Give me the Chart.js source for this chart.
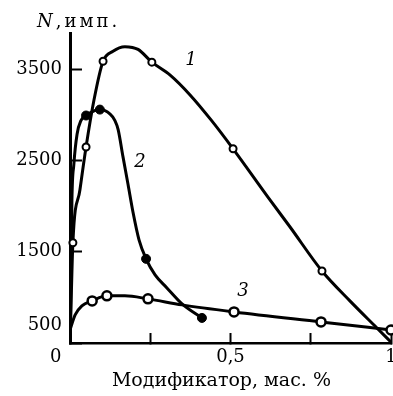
<!DOCTYPE html>
<html>
<head>
<meta charset="utf-8">
<script src="https://cdn.jsdelivr.net/npm/chart.js@4.4.1/dist/chart.umd.min.js"></script>
<style>
  html, body { margin: 0; padding: 0; background: #fff; }
  #wrap { width: 393px; height: 396px; }
</style>
</head>
<body>
<div id="wrap"><canvas id="chart" width="393" height="396"></canvas></div>
<script>
const curve1 = [
  {x: 0.001, y: 600}, {x: 0.009, y: 1600}, {x: 0.031, y: 2180}, {x: 0.05, y: 2650},
  {x: 0.075, y: 3170}, {x: 0.103, y: 3590}, {x: 0.134, y: 3700}, {x: 0.171, y: 3750},
  {x: 0.212, y: 3720}, {x: 0.255, y: 3580}, {x: 0.312, y: 3438}, {x: 0.374, y: 3221},
  {x: 0.44, y: 2944}, {x: 0.508, y: 2630}, {x: 0.623, y: 2070}, {x: 0.685, y: 1775},
  {x: 0.785, y: 1290}, {x: 0.872, y: 962}, {x: 0.956, y: 665}, {x: 1.0, y: 510}
];
const marks1 = [
  {x: 0.009, y: 1600}, {x: 0.05, y: 2650}, {x: 0.103, y: 3590},
  {x: 0.255, y: 3580}, {x: 0.508, y: 2630}, {x: 0.785, y: 1290}
];

// curve 2 (filled circles)
const curve2 = [
  {x: 0.001, y: 600}, {x: 0.006, y: 2070}, {x: 0.012, y: 2460}, {x: 0.022, y: 2790},
  {x: 0.034, y: 2940}, {x: 0.05, y: 2995}, {x: 0.093, y: 3060}, {x: 0.125, y: 3010},
  {x: 0.14, y: 2940}, {x: 0.15, y: 2841}, {x: 0.165, y: 2544}, {x: 0.181, y: 2236},
  {x: 0.196, y: 1940}, {x: 0.215, y: 1632}, {x: 0.237, y: 1423}, {x: 0.265, y: 1247},
  {x: 0.302, y: 1104}, {x: 0.349, y: 929}, {x: 0.411, y: 775}
];
const marks2 = [
  {x: 0.05, y: 2995}, {x: 0.093, y: 3060}, {x: 0.237, y: 1423}, {x: 0.411, y: 775}
];

// curve 3 (thick open circles)
const curve3 = [
  {x: 0.0, y: 643}, {x: 0.016, y: 808}, {x: 0.037, y: 907}, {x: 0.069, y: 962},
  {x: 0.115, y: 1017}, {x: 0.171, y: 1017}, {x: 0.243, y: 984}, {x: 0.349, y: 918},
  {x: 0.511, y: 841}, {x: 0.782, y: 731}, {x: 1.0, y: 643}
];
const marks3 = [
  {x: 0.069, y: 962}, {x: 0.115, y: 1017}, {x: 0.243, y: 984},
  {x: 0.511, y: 841}, {x: 0.782, y: 731}, {x: 1.0, y: 643}
];

const xTicks = [0, 0.25, 0.5, 0.75, 1];
const xTickLabels = ['0     ', '', '0,5', '', '1'];
const yTicks = [500, 1500, 2500, 3500];
const yTickLabels = ['500', '1500', '2500', '3500'];
const curveNames = ['1', '2', '3'];
const curveNameAt = [{x: 0.377, y: 3600}, {x: 0.218, y: 2478}, {x: 0.539, y: 1071}];

const SERIF = '"DejaVu Serif"';

const lineSet = (data) => ({
  data, borderColor: '#000', borderWidth: 3, pointRadius: 0,
  cubicInterpolationMode: 'monotone', fill: false, order: 1
});
const markSet = (data, r, bw, bg) => ({
  data, showLine: false, pointRadius: r, pointBorderWidth: bw,
  pointBackgroundColor: bg, pointBorderColor: '#000', order: 0, clip: 10
});

const annotations = {
  id: 'annotations',
  afterDraw(chart) {
    const {ctx, scales: {x, y}} = chart;
    ctx.save();
    ctx.fillStyle = '#000';
    ctx.textAlign = 'center';
    ctx.textBaseline = 'middle';
    ctx.font = 'italic 18px ' + SERIF;
    curveNames.forEach((n, i) => {
      ctx.fillText(n, x.getPixelForValue(curveNameAt[i].x), y.getPixelForValue(curveNameAt[i].y));
    });
    // axis name at the top of the y axis
    ctx.textAlign = 'left';
    ctx.textBaseline = 'alphabetic';
    ctx.letterSpacing = '3px';
    ctx.fillText('N', 37, 27);
    const w = ctx.measureText('N').width;
    ctx.font = '18px ' + SERIF;
    ctx.fillText(',имп.', 37 + w, 27);
    ctx.restore();
  }
};

new Chart(document.getElementById('chart'), {
  type: 'line',
  data: {
    datasets: [
      markSet(marks1, 3.5, 2, '#fff'),
      markSet(marks2, 4.5, 1, '#000'),
      markSet(marks3, 4.5, 2.5, '#fff'),
      lineSet(curve1),
      lineSet(curve2),
      lineSet(curve3)
    ]
  },
  options: {
    responsive: false,
    animation: false,
    layout: { autoPadding: false, padding: { top: 33, right: 2, left: 0, bottom: 0 } },
    plugins: { legend: { display: false }, tooltip: { enabled: false } },
    scales: {
      x: {
        type: 'linear', min: 0, max: 1,
        afterBuildTicks: s => { s.ticks = xTicks.map(v => ({value: v})); },
        afterFit: s => { s.height = 53; s.paddingLeft = 0; s.paddingRight = 0; },
        grid: { drawOnChartArea: false, tickLength: -10, tickWidth: 2, tickColor: '#000' },
        border: { color: '#000', width: 2.5 },
        ticks: {
          padding: 14, color: '#000', maxRotation: 0, autoSkip: false,
          font: { family: SERIF, size: 18 },
          callback: (v, i) => xTickLabels[i]
        },
        title: {
          display: true, text: 'Модификатор, мас. %   ', color: '#000',
          font: { family: SERIF, size: 19 }, padding: { top: 0, bottom: 4 }
        }
      },
      y: {
        type: 'linear', min: 500, max: 3900,
        afterBuildTicks: s => { s.ticks = yTicks.map(v => ({value: v})); },
        afterFit: s => { s.width = 70; s.paddingTop = 0; s.paddingBottom = 0; },
        grid: { drawOnChartArea: false, tickLength: -12, tickWidth: 2, tickColor: '#000' },
        border: { color: '#000', width: 3 },
        ticks: {
          padding: 20, color: '#000', autoSkip: false,
          font: { family: SERIF, size: 18, lineHeight: 1 },
          callback: (v, i) => i === 0 ? [yTickLabels[i], '', ''] : yTickLabels[i]
        }
      }
    }
  },
  plugins: [annotations]
});
</script>
</body>
</html>
